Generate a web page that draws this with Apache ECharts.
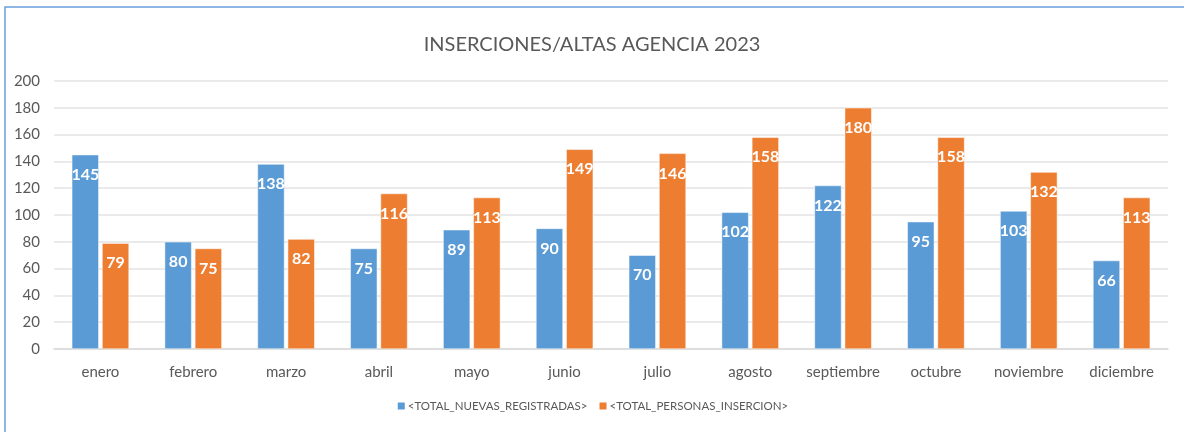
<!DOCTYPE html>
<html>
<head>
<meta charset="utf-8">
<script src="https://cdn.jsdelivr.net/npm/echarts@6/dist/echarts.min.js"></script>
<style>
  html, body { margin: 0; padding: 0; background: #fff; }
  #chart { width: 1184px; height: 432px; }
</style>
</head>
<body>
<div id="chart"></div>
<script>
var meses = ['enero', 'febrero', 'marzo', 'abril', 'mayo', 'junio', 'julio', 'agosto', 'septiembre', 'octubre', 'noviembre', 'diciembre'];
var nuevasRegistradas = [145, 80, 138, 75, 89, 90, 70, 102, 122, 95, 103, 66];
var personasInsercion = [79, 75, 82, 116, 113, 149, 146, 158, 180, 158, 132, 113];
var yTicks = [0, 20, 40, 60, 80, 100, 120, 140, 160, 180, 200];

var myChart = echarts.init(document.getElementById('chart'));
var gris = '#595959';
var fuente = 'Lato';

var etiqueta = {
  show: true,
  position: 'insideTop',
  distance: 12,
  color: '#fff',
  fontWeight: 'bold',
  fontSize: 16,
  fontFamily: fuente
};

var option = {
  animation: false,
  backgroundColor: '#fff',
  graphic: [{
    type: 'rect',
    shape: { x: 5, y: 7, width: 1200, height: 440 },
    style: { fill: 'none', stroke: '#6a9fdc', lineWidth: 1.5 }
  }],
  title: {
    text: 'INSERCIONES/ALTAS AGENCIA 2023',
    left: 'center',
    top: 30,
    textStyle: { color: gris, fontSize: 20, fontWeight: 'normal', fontFamily: fuente }
  },
  legend: {
    bottom: 15,
    left: 'center',
    itemWidth: 9,
    itemHeight: 9,
    itemGap: 10,
    icon: 'rect',
    textStyle: { color: gris, fontSize: 11.5, fontFamily: fuente, padding: [0, 0, 0, -3] },
    data: ['<TOTAL_NUEVAS_REGISTRADAS>', '<TOTAL_PERSONAS_INSERCION>']
  },
  grid: { left: 54, right: 16, top: 81, bottom: 83 },
  xAxis: {
    type: 'category',
    data: meses,
    axisTick: { show: false },
    axisLine: { lineStyle: { color: '#d9d9d9', width: 1.5 } },
    axisLabel: { color: gris, fontSize: 15, fontFamily: fuente, margin: 16, interval: 0 }
  },
  yAxis: {
    type: 'value',
    min: yTicks[0],
    max: yTicks[yTicks.length - 1],
    interval: yTicks[1] - yTicks[0],
    axisLine: { show: false },
    axisTick: { show: false },
    splitLine: { lineStyle: { color: '#e3e3e3', width: 1.5 } },
    axisLabel: { color: gris, fontSize: 15, fontFamily: fuente, margin: 14 }
  },
  series: [{
    name: '<TOTAL_NUEVAS_REGISTRADAS>',
    type: 'bar',
    data: nuevasRegistradas,
    barWidth: 27,
    barGap: '12%',
    itemStyle: { color: '#5b9bd5', borderColor: '#fff', borderWidth: 0.5 },
    label: etiqueta
  }, {
    name: '<TOTAL_PERSONAS_INSERCION>',
    type: 'bar',
    data: personasInsercion,
    barWidth: 27,
    itemStyle: { color: '#ed7d31', borderColor: '#fff', borderWidth: 0.5 },
    label: etiqueta
  }]
};

myChart.setOption(option);
</script>
</body>
</html>
